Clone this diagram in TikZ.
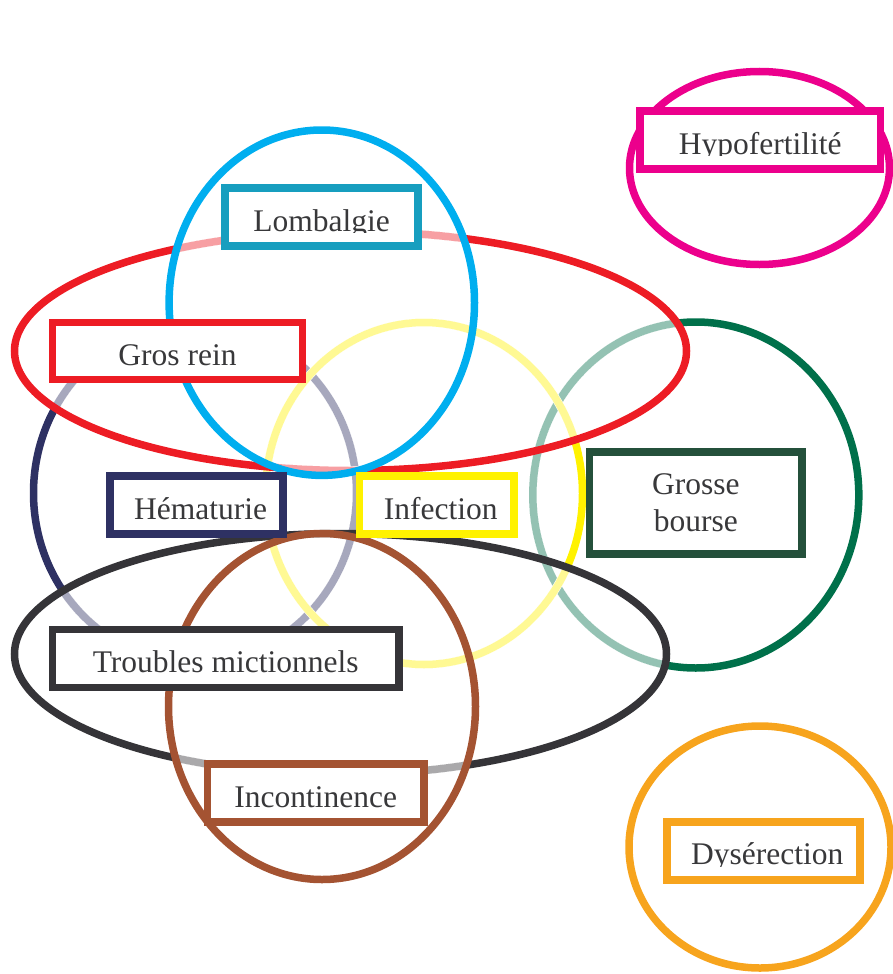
\documentclass[tikz,border=0pt]{standalone}
\usepackage{fontspec}
\setmainfont{Liberation Serif}

\definecolor{rose}{HTML}{EC008C}
\definecolor{ciel}{HTML}{00AEEF}
\definecolor{sarcelle}{HTML}{179EBF}
\definecolor{rouge}{HTML}{ED1C24}
\definecolor{jaune}{HTML}{FFF200}
\definecolor{marine}{HTML}{2E3163}
\definecolor{vert}{HTML}{00704A}
\definecolor{sapin}{HTML}{24503B}
\definecolor{noir}{HTML}{353438}
\definecolor{brique}{HTML}{A45332}
\definecolor{ambre}{HTML}{F7A41D}
\definecolor{txt}{HTML}{38383A}

\newcommand\boxfont{\fontsize{31.5}{37.7}\selectfont}

% contours: centre and radii, in pixels of the figure
\newcommand\ringVert{(695.8,495) ellipse [x radius=163pt, y radius=173pt]}
\newcommand\ringMarine{(195,493) ellipse [x radius=161.5pt, y radius=170pt]}
\newcommand\ringJaune{(424,493.5) ellipse [x radius=158.5pt, y radius=171pt]}
\newcommand\ringRouge{(350.5,351) ellipse [x radius=336pt, y radius=119.5pt]}
\newcommand\ringCiel{(321.8,302.7) ellipse [x radius=152.7pt, y radius=172.7pt]}
\newcommand\ringNoir{(340.5,654) ellipse [x radius=326pt, y radius=120.5pt]}
\newcommand\ringBrique{(322,706.5) ellipse [x radius=153.5pt, y radius=173pt]}
\newcommand\ringRose{(759.5,168) ellipse [x radius=130pt, y radius=96.5pt]}
\newcommand\ringAmbre{(760,847) ellipse [x radius=131pt, y radius=121pt]}

\begin{document}
\begin{tikzpicture}[
  x=1pt,
  y=-1pt,
  ring/.style={line width=7.5pt},
  erase/.style={draw=white, line width=8.5pt},
  faded/.style={line width=7.5pt, draw opacity=.42},
  box/.style={draw=#1, line width=7.5pt, fill=white, inner sep=0pt, text=txt,
    font=\boxfont, text height=30pt, text depth=2pt},
  cuttext/.style 2 args={path picture={
    \clip (path picture bounding box.north west) rectangle ([yshift=13.5pt]path picture bounding box.south east);
    \node[text=txt, font=\boxfont, inner sep=0pt, text height=30pt, text depth=2pt] (#1) at (path picture bounding box.center) {#2};
  }}
]
\useasboundingbox (0,0) rectangle (893,974);

% green ring, faded under yellow, red and black
\draw[ring, vert] \ringVert;
\begin{scope}
  \clip \ringJaune \ringRouge \ringNoir;
  \draw[erase] \ringVert;
  \draw[faded, vert] \ringVert;
\end{scope}

% navy ring
\draw[ring, marine] \ringMarine;
\begin{scope}
  \clip \ringRouge \ringJaune \ringNoir \ringCiel;
  \draw[erase] \ringMarine;
  \draw[faded, marine] \ringMarine;
\end{scope}

% yellow ring
\draw[ring, jaune] \ringJaune;
\begin{scope}
  \clip \ringRouge \ringCiel \ringMarine \ringNoir \ringBrique;
  \draw[erase] \ringJaune;
  \draw[faded, jaune] \ringJaune;
\end{scope}

% red ring
\draw[ring, rouge] \ringRouge;
\begin{scope}
  \clip \ringCiel;
  \draw[erase] \ringRouge;
  \draw[faded, rouge] \ringRouge;
\end{scope}

\draw[ring, ciel] \ringCiel;

% black ring
\draw[ring, noir] \ringNoir;
\begin{scope}
  \clip \ringBrique;
  \draw[erase] \ringNoir;
  \draw[faded, noir] \ringNoir;
\end{scope}

\draw[ring, brique] \ringBrique;
\draw[ring, rose] \ringRose;
\draw[ring, ambre] \ringAmbre;

% labels
\node[box=rose, minimum width=240.5pt, minimum height=58pt, cuttext={hypo-t}{Hypofertilité}] (hypo) at (760.3,140) {};
\node[box=sarcelle, minimum width=193pt, minimum height=58pt, cuttext={lomb-t}{Lombalgie}] (lomb) at (321.5,217) {};
\node[box=rouge, minimum width=250pt, minimum height=57pt] (rein) at (177.5,351) {Gros rein};
\node[box=marine, minimum width=173pt, minimum height=58pt] (hema) at (196.5,505) {\hspace{8pt}Hématurie};
\node[box=jaune, minimum width=154.5pt, minimum height=58pt] (infec) at (436.7,505) {\hspace{8pt}Infection};
\node[box=sapin, minimum width=212.5pt, minimum height=102pt, align=center,
  text height=58pt, text depth=0.6pt] (bourse) at (695.8,503) {Grosse\\bourse};
\node[box=noir, minimum width=346.5pt, minimum height=58pt] (mict) at (225.7,658.5) {Troubles mictionnels};
\node[box=brique, minimum width=216.5pt, minimum height=58pt] (incont) at (315.8,793) {Incontinence};
\node[box=ambre, minimum width=193pt, minimum height=58pt, cuttext={dys-t}{\hspace{8pt}Dysérection}] (dys) at (763.3,850.8) {};
\end{tikzpicture}
\end{document}
